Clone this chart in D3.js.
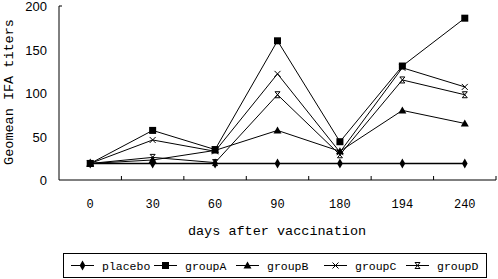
<!DOCTYPE html>
<html lang="en">
  <head>
    <meta charset="UTF-8" />
    <title>Geomean IFA titers</title>
    <style>
      body { margin: 0; background: #fff; }
      svg { display: block; }
      text { font-family: "Liberation Mono", monospace; fill: #000; }
    </style>
  </head>
  <body>
    <div class="chart"></div>
    <script src="https://cdn.jsdelivr.net/npm/d3@7/dist/d3.min.js"></script>
    <script>
    // data
    var days = ["0", "30", "60", "90", "180", "194", "240"];
    var groupNames = ["placebo", "groupA", "groupB", "groupC", "groupD"];
    var placebo = [19, 19, 19, 19, 19, 19, 19];
    var groupA = [19, 57, 35, 160, 44, 131, 186];
    var groupB = [19, 23, 34, 57, 33, 80, 65];
    var groupC = [19, 46, 33, 122, 32, 129, 107];
    var groupD = [19, 26, 20, 98, 29, 115, 98];
    var yTicks = [0, 50, 100, 150, 200];

    var series = [placebo, groupA, groupB, groupC, groupD];

    var w = 498, h = 279;
    var svg = d3.select(".chart").append("svg")
                .attr("width", w)
                .attr("height", h);

    var x = d3.scaleBand().domain(days).range([59, 496]).padding(0);
    var y = d3.scaleLinear().domain([0, 200]).range([180, 6]);
    var cx = function(d) { return x(d) + x.bandwidth() / 2; };

    // axes
    var xAxis = svg.append("g")
                   .attr("transform", "translate(0,180)");
    xAxis.append("line")
         .attr("x1", 59).attr("x2", 496)
         .attr("stroke", "#000");
    xAxis.selectAll("line.tk")
         .data(days)
         .enter().append("line")
         .attr("class", "tk")
         .attr("x1", function(d) { return x(d) + x.bandwidth(); })
         .attr("x2", function(d) { return x(d) + x.bandwidth(); })
         .attr("y1", 0).attr("y2", -4)
         .attr("stroke", "#000");
    xAxis.selectAll("text")
         .data(days)
         .enter().append("text")
         .attr("x", cx)
         .attr("y", 28)
         .attr("text-anchor", "middle")
         .style("font-size", "12px")
         .text(function(d) { return d; });

    svg.append("line")
       .attr("x1", 59).attr("x2", 59)
       .attr("y1", y(200)).attr("y2", 180)
       .attr("stroke", "#000");
    svg.append("line")
       .attr("x1", 59).attr("x2", 62)
       .attr("y1", y(200)).attr("y2", y(200))
       .attr("stroke", "#000");
    svg.selectAll("text.yt")
       .data(yTicks)
       .enter().append("text")
       .attr("class", "yt")
       .attr("x", 47)
       .attr("y", function(d) { return y(d) + 5; })
       .attr("text-anchor", "end")
       .style("font-family", "'Liberation Sans', Arial, sans-serif")
       .style("font-size", "13px")
       .text(function(d) { return d; });

    svg.append("text")
       .attr("transform", "translate(13,92) rotate(-90)")
       .attr("text-anchor", "middle")
       .style("font-size", "13.5px")
       .text("Geomean IFA titers");

    svg.append("text")
       .attr("x", 277)
       .attr("y", 235)
       .attr("text-anchor", "middle")
       .style("font-size", "13.5px")
       .text("days after vaccination");

    // markers
    function drawMarker(g, k, px, py) {
      if (k == 0) {
        g.append("path")
         .attr("d", d3.symbol().type(d3.symbolDiamond).size(28)())
         .attr("transform", "translate(" + px + "," + py + ")")
         .attr("fill", "#000");
      } else if (k == 1) {
        g.append("rect")
         .attr("x", px - 3.5).attr("y", py - 3.5)
         .attr("width", 7).attr("height", 7)
         .attr("fill", "#000");
      } else if (k == 2) {
        g.append("path")
         .attr("d", "M" + px + "," + (py - 4) + "L" + (px + 4) + "," + (py + 3) + "L" + (px - 4) + "," + (py + 3) + "Z")
         .attr("fill", "#000");
      } else if (k == 3) {
        g.append("path")
         .attr("d", "M" + (px - 3) + "," + (py - 3) + "L" + (px + 3) + "," + (py + 3) +
                    "M" + (px + 3) + "," + (py - 3) + "L" + (px - 3) + "," + (py + 3))
         .attr("stroke", "#000").attr("fill", "none");
      } else {
        g.append("path")
         .attr("d", "M" + (px - 2.5) + "," + (py - 3) + "L" + (px + 2.5) + "," + (py + 3) +
                    "M" + (px + 2.5) + "," + (py - 3) + "L" + (px - 2.5) + "," + (py + 3) +
                    "M" + (px - 2.5) + "," + (py - 3) + "L" + (px + 2.5) + "," + (py - 3) +
                    "M" + (px - 2.5) + "," + (py + 3) + "L" + (px + 2.5) + "," + (py + 3))
         .attr("stroke", "#000").attr("fill", "none");
      }
    }

    var line = d3.line()
                 .x(function(d, i) { return cx(days[i]); })
                 .y(function(d) { return y(d); });

    series.forEach(function(s, k) {
      var g = svg.append("g");
      g.append("path")
       .attr("d", line(s))
       .attr("fill", "none")
       .attr("stroke", "#000")
       .attr("stroke-width", k == 0 ? 1.4 : 1);
      s.forEach(function(v, i) {
        drawMarker(g, k, cx(days[i]), y(v));
      });
    });

    // legend
    var legendTextX = [102, 185, 267, 355, 437];
    var lg = svg.append("g");
    lg.append("rect")
      .attr("x", 63.5).attr("y", 253.5)
      .attr("width", 423).attr("height", 24)
      .attr("fill", "#fff")
      .attr("stroke", "#000");
    groupNames.forEach(function(name, k) {
      var tx = legendTextX[k];
      var g = lg.append("g");
      g.append("line")
       .attr("x1", tx - 31).attr("x2", tx - 8)
       .attr("y1", 265.5).attr("y2", 265.5)
       .attr("stroke", "#000");
      drawMarker(g, k, tx - 19.5, 265.5);
      g.append("text")
       .attr("x", tx)
       .attr("y", 270)
       .style("font-size", "11.5px")
       .text(name);
    });
    </script>
  </body>
</html>
